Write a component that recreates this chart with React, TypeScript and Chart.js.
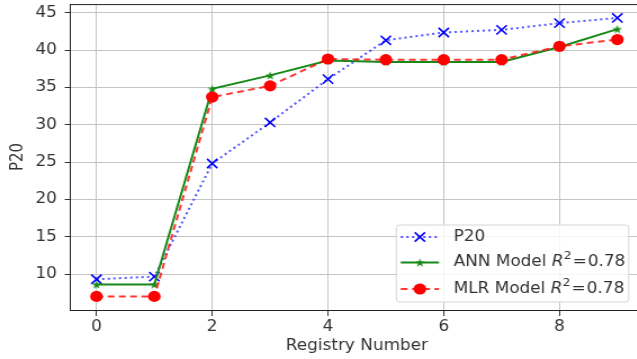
import React, { useEffect, useRef } from 'react';
import { Chart, registerables } from 'chart.js';

Chart.register(...registerables);

// ---- data ----
const registryNumbers = [0, 1, 2, 3, 4, 5, 6, 7, 8, 9];
const p20Values = [9.3, 9.65, 24.8, 30.3, 36.1, 41.3, 42.35, 42.7, 43.6, 44.3];
const annValues = [8.6, 8.6, 34.8, 36.6, 38.6, 38.4, 38.4, 38.4, 40.4, 42.8];
const mlrValues = [7.0, 7.0, 33.7, 35.2, 38.8, 38.7, 38.7, 38.7, 40.5, 41.4];
const seriesNames = ['P20', 'ANN Model', 'MLR Model'];
const seriesR2 = ['', '0.78', '0.78'];
const xAxisTitle = 'Registry Number';
const yAxisTitle = 'P20';

// ---- layout / style ----
const SX = 1.125; // horizontal stretch of the whole figure
const LW = 580; // logical canvas width
const H = 359;
const CH = 363; // canvas height (shifted up by 4px)
const FONT = '"DejaVu Sans", sans-serif';
const TEXT = '#333';

const BLUE = 'rgba(30,30,255,0.75)';
const GREEN = '#168a16';
const RED = 'rgba(255,20,20,0.85)';

function makeStar(size: number, color: string) {
  const c = document.createElement('canvas');
  c.width = size;
  c.height = size;
  const ctx = c.getContext('2d')!;
  const cx = size / 2, cy = size / 2 + 0.5, R = size / 2, r = R * 0.4;
  ctx.beginPath();
  for (let i = 0; i < 10; i++) {
    const a = -Math.PI / 2 + (i * Math.PI) / 5;
    const rad = i % 2 === 0 ? R : r;
    ctx.lineTo(cx + rad * Math.cos(a), cy + rad * Math.sin(a));
  }
  ctx.closePath();
  ctx.fillStyle = color;
  ctx.fill();
  return c;
}

function drawMarker(ctx: CanvasRenderingContext2D, kind: string, x: number, y: number, color: string, star?: HTMLCanvasElement) {
  ctx.save();
  ctx.setLineDash([]);
  if (kind === 'x') {
    const s = 4.6;
    ctx.strokeStyle = color;
    ctx.lineWidth = 1.6;
    ctx.beginPath();
    ctx.moveTo(x - s, y - s); ctx.lineTo(x + s, y + s);
    ctx.moveTo(x - s, y + s); ctx.lineTo(x + s, y - s);
    ctx.stroke();
  } else if (kind === 'star' && star) {
    ctx.drawImage(star, x - star.width / 2, y - star.height / 2);
  } else {
    ctx.fillStyle = color;
    ctx.beginPath();
    ctx.arc(x, y, 5.6, 0, Math.PI * 2);
    ctx.fill();
  }
  ctx.restore();
}

export default function App() {
  const ref = useRef<HTMLCanvasElement>(null);

  useEffect(() => {
    const canvas = ref.current!;
    const star = makeStar(9, GREEN);
    const markerKinds = ['x', 'star', 'circle'];
    const markerColors = ['#0000ff', GREEN, '#ff0000'];

    const toPts = (vals: number[]) => registryNumbers.map((x, i) => ({ x, y: vals[i] }));

    const framePlugin = {
      id: 'topSpine',
      afterDatasetsDraw(chart: any) {
        const { ctx, chartArea } = chart;
        ctx.save();
        ctx.strokeStyle = '#222';
        ctx.lineWidth = 1;
        ctx.beginPath();
        ctx.moveTo(chartArea.left, chartArea.top + 0.5);
        ctx.lineTo(chartArea.right, chartArea.top + 0.5);
        ctx.stroke();
        ctx.restore();
      },
    };

    const legendPlugin = {
      id: 'mplLegend',
      afterDraw(chart: any) {
        const { ctx, chartArea } = chart;
        const fs = 15;
        const base = `${fs}px ${FONT}`;
        const ital = `italic ${fs}px ${FONT}`;
        const sup = `${Math.round(fs * 0.7)}px ${FONT}`;
        ctx.save();
        const widths = seriesNames.map((n, i) => {
          ctx.font = base;
          let w = ctx.measureText(n).width;
          if (seriesR2[i]) {
            w += ctx.measureText(' ').width;
            ctx.font = ital; w += ctx.measureText('R').width;
            ctx.font = sup; w += ctx.measureText('2').width + 1;
            ctx.font = base; w += ctx.measureText('=').width + 1 + ctx.measureText(seriesR2[i]).width;
          }
          return w;
        });
        const maxW = Math.max(...widths);
        const right = chartArea.right - 13;
        const bottom = chartArea.bottom - 8;
        const left = right - 54 - maxW;
        const top = bottom - 77;
        ctx.fillStyle = 'rgba(255,255,255,0.85)';
        ctx.strokeStyle = '#d6d6d6';
        ctx.lineWidth = 1;
        ctx.beginPath();
        const r = 3;
        ctx.moveTo(left + r, top);
        ctx.lineTo(right - r, top);
        ctx.quadraticCurveTo(right, top, right, top + r);
        ctx.lineTo(right, bottom - r);
        ctx.quadraticCurveTo(right, bottom, right - r, bottom);
        ctx.lineTo(left + r, bottom);
        ctx.quadraticCurveTo(left, bottom, left, bottom - r);
        ctx.lineTo(left, top + r);
        ctx.quadraticCurveTo(left, top, left + r, top);
        ctx.closePath();
        ctx.fill();
        ctx.stroke();

        const rows = [top + 12, top + 37.5, top + 64];
        chart.data.datasets.forEach((ds: any, i: number) => {
          const y = rows[i];
          ctx.save();
          ctx.strokeStyle = ds.borderColor;
          ctx.lineWidth = ds.borderWidth;
          ctx.setLineDash(ds.borderDash || []);
          ctx.beginPath();
          ctx.moveTo(left + 4, y);
          ctx.lineTo(left + 38, y);
          ctx.stroke();
          ctx.restore();
          drawMarker(ctx, markerKinds[i], left + 21, y, markerColors[i], star);
          let tx = left + 51;
          ctx.fillStyle = TEXT;
          ctx.textBaseline = 'middle';
          ctx.textAlign = 'left';
          ctx.font = base;
          ctx.fillText(seriesNames[i], tx, y);
          tx += ctx.measureText(seriesNames[i]).width;
          if (seriesR2[i]) {
            tx += ctx.measureText(' ').width;
            ctx.font = ital;
            ctx.fillText('R', tx, y);
            tx += ctx.measureText('R').width;
            ctx.font = sup;
            ctx.fillText('2', tx, y - 6);
            tx += ctx.measureText('2').width + 1;
            ctx.font = base;
            ctx.fillText('=', tx, y);
            tx += ctx.measureText('=').width + 1;
            ctx.fillText(seriesR2[i], tx, y);
          }
        });
        ctx.restore();
      },
    };

    const chart = new Chart(canvas, {
      type: 'line',
      data: {
        datasets: [
          {
            label: seriesNames[0],
            data: toPts(p20Values),
            borderColor: BLUE,
            borderWidth: 2,
            borderDash: [2, 3],
            pointStyle: 'crossRot',
            pointRadius: 6.5,
            pointBorderWidth: 1.6,
            pointBorderColor: '#0000ff',
            pointBackgroundColor: '#0000ff',
            order: 3,
          },
          {
            label: `${seriesNames[1]} R²=${seriesR2[1]}`,
            data: toPts(annValues),
            borderColor: GREEN,
            borderWidth: 2,
            pointStyle: star as any,
            pointRadius: 4,
            order: 2,
          },
          {
            label: `${seriesNames[2]} R²=${seriesR2[2]}`,
            data: toPts(mlrValues),
            borderColor: RED,
            borderWidth: 2,
            borderDash: [6, 4],
            pointStyle: 'circle',
            pointRadius: 5.6,
            pointBorderWidth: 0,
            pointBackgroundColor: '#ff0000',
            order: 1,
          },
        ],
      },
      options: {
        animation: false,
        responsive: false,
        devicePixelRatio: 1,
        layout: { padding: { top: 4, right: 7, left: 0, bottom: 0 } },
        plugins: { legend: { display: false }, tooltip: { enabled: false }, title: { display: false } },
        elements: { line: { tension: 0 } },
        scales: {
          x: {
            type: 'linear',
            min: -0.45,
            max: 9.45,
            ticks: { stepSize: 2, includeBounds: false, color: TEXT, font: { family: FONT, size: 15 }, padding: 2, maxRotation: 0 },
            grid: { color: '#c4c4c4', lineWidth: 1, tickLength: 6, tickColor: '#333', drawTicks: true },
            border: { display: true, color: '#222', width: 1 },
            title: { display: true, text: xAxisTitle, color: TEXT, font: { family: FONT, size: 15 }, padding: { top: 0, bottom: 4 } },
            afterFit: (s: any) => { s.height = 49; s.paddingLeft = 0; s.paddingRight = 0; },
          },
          y: {
            type: 'linear',
            min: 5.18,
            max: 46.15,
            ticks: { stepSize: 5, includeBounds: false, color: TEXT, font: { family: FONT, size: 15 }, padding: 7 },
            grid: { color: '#c4c4c4', lineWidth: 1, tickLength: 5, tickColor: '#333', drawTicks: true },
            border: { display: true, color: '#222', width: 1 },
            title: { display: true, text: yAxisTitle, color: TEXT, font: { family: FONT, size: 15 }, padding: { top: 7, bottom: 0 } },
            afterFit: (s: any) => { s.width = 62.6; s.paddingTop = 0; s.paddingBottom = 0; },
          },
        },
      } as any,
      plugins: [framePlugin, legendPlugin],
    });
    return () => chart.destroy();
  }, []);

  return (
    <div style={{ position: 'absolute', left: 0, top: 0, width: 637, height: H, overflow: 'hidden', background: '#fff' }}>
      <div style={{ position: 'absolute', left: 0, top: -4, width: LW, height: CH, transform: `scaleX(${SX})`, transformOrigin: '0 0' }}>
        <canvas ref={ref} width={LW} height={CH} style={{ display: 'block' }} />
      </div>
    </div>
  );
}
